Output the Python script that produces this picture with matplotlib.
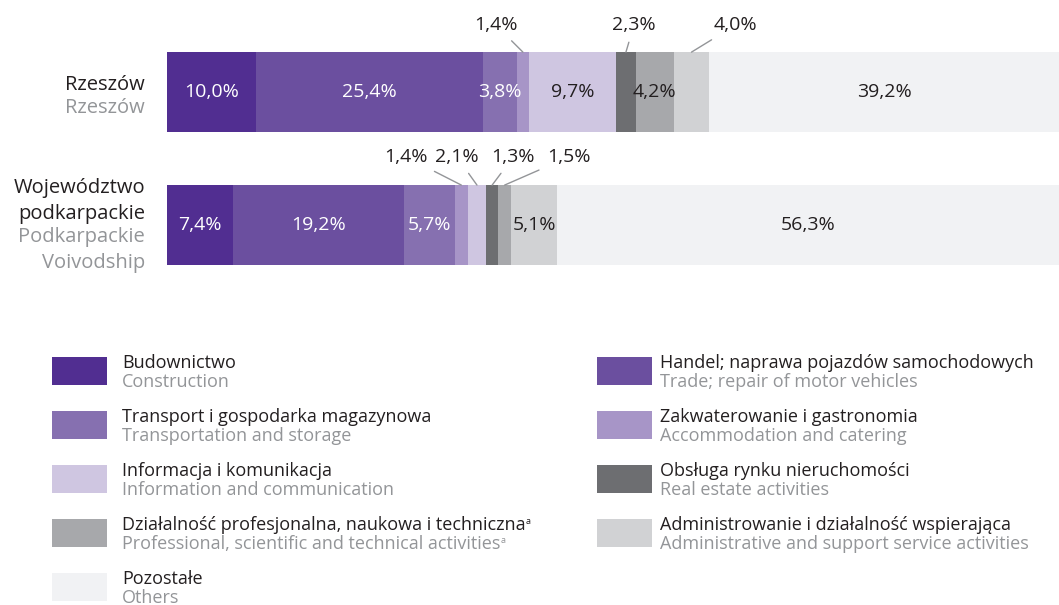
import matplotlib
matplotlib.use('Agg')
import matplotlib.pyplot as plt
from matplotlib.patches import Rectangle

plt.rcParams['font.family'] = ['Open Sans', 'DejaVu Sans']

# Data
rows_pl = ['Rzeszów', 'Województwo\npodkarpackie']
rows_en = ['Rzeszów', 'Podkarpackie\nVoivodship']
categories_pl = ['Budownictwo', 'Handel; naprawa pojazdów samochodowych',
                 'Transport i gospodarka magazynowa', 'Zakwaterowanie i gastronomia',
                 'Informacja i komunikacja', 'Obsługa rynku nieruchomości',
                 'Działalność profesjonalna, naukowa i techniczna',
                 'Administrowanie i działalność wspierająca', 'Pozostałe']
categories_en = ['Construction', 'Trade; repair of motor vehicles',
                 'Transportation and storage', 'Accommodation and catering',
                 'Information and communication', 'Real estate activities',
                 'Professional, scientific and technical activities',
                 'Administrative and support service activities', 'Others']
rzeszow = [10.0, 25.4, 3.8, 1.4, 9.7, 2.3, 4.2, 4.0, 39.2]
podkarpackie = [7.4, 19.2, 5.7, 1.4, 2.1, 1.3, 1.5, 5.1, 56.3]
footnotes = {6: 'a'}

colors = ['#512e91', '#6b4f9f', '#8670b0', '#a795c7', '#cfc6e1',
          '#6d6e71', '#a7a8ab', '#d1d2d4', '#f1f2f4']
dark = '#231f20'
grey = '#939598'

# labels placed above the bar: (row, category) -> text offset in pixels
outside = {(0, 3): (-27, 27), (0, 5): (8, 27), (0, 7): (44, 27),
           (1, 3): (-55, 28), (1, 4): (-20, 28), (1, 5): (21, 28), (1, 6): (64, 28)}
# vertical split between Polish and English row labels (pixels, + is up)
row_split = [-4, 0]

fig = plt.figure(figsize=(10.59, 6.05), dpi=100)

# background axes in pixel units for legend
lg = fig.add_axes([0, 0, 1, 1])
lg.set_xlim(0, 1059)
lg.set_ylim(605, 0)
lg.axis('off')

ax = fig.add_axes([167 / 1059, 315 / 605, 892 / 1059, 290 / 605])
ax.set_xlim(0, 100)
ax.set_ylim(1.489, -0.692)
ax.axis('off')

bar_h = 0.6
for r, values in enumerate([rzeszow, podkarpackie]):
    left = 0
    for c, v in enumerate(values):
        ax.barh(r, v, left=left, height=bar_h, color=colors[c], linewidth=0)
        label = f"{v:.1f}%".replace('.', ',')
        cx = left + v / 2
        if (r, c) in outside:
            ax.annotate(label, xy=(cx, r - bar_h / 2), xytext=outside[(r, c)],
                        textcoords='offset pixels', ha='center', va='center',
                        fontsize=14, color=dark,
                        arrowprops=dict(arrowstyle='-', color=grey, lw=1,
                                        shrinkA=4, shrinkB=0))
        else:
            ax.text(cx, r, label, ha='center', va='center', fontsize=14,
                    color='white' if c < 3 else dark)
        left += v

    # row labels: Polish above, English below
    ax.annotate(rows_pl[r], xy=(0, r), xytext=(-22, row_split[r] + 1),
                textcoords='offset pixels', ha='right', va='bottom',
                fontsize=14.5, color=dark, linespacing=1.38)
    ax.annotate(rows_en[r], xy=(0, r), xytext=(-22, row_split[r] - 2),
                textcoords='offset pixels', ha='right', va='top',
                fontsize=14.5, color=grey, linespacing=1.38)

# legend, two columns filled row by row
for i in range(len(categories_pl)):
    row, col = divmod(i, 2)
    px = 52 if col == 0 else 597
    tx = 122 if col == 0 else 660
    py = 357 + row * 54
    lg.add_patch(Rectangle((px, py), 55, 28, color=colors[i], linewidth=0))
    t1 = lg.text(tx, py + 6, categories_pl[i], ha='left', va='center',
                 fontsize=13, color=dark)
    t2 = lg.text(tx, py + 25, categories_en[i], ha='left', va='center',
                 fontsize=13, color=grey)
    if i in footnotes:
        for t, colr in ((t1, dark), (t2, grey)):
            lg.annotate(footnotes[i], xy=(1, 0.68), xycoords=t, xytext=(0.3, 0),
                        textcoords='offset points', ha='left', va='center',
                        fontsize=6.5, color=colr)

fig.savefig('out.png', dpi=100)
